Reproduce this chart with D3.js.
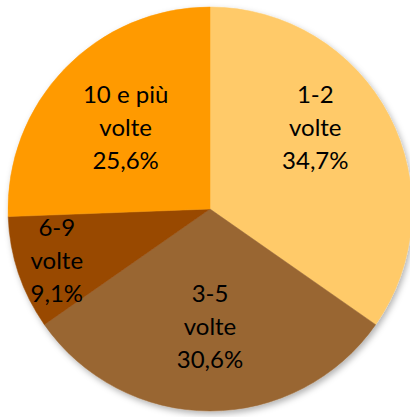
<!DOCTYPE html>
<html>
<head>
<meta charset="utf-8">
<script src="https://cdn.jsdelivr.net/npm/d3@7"></script>
<style>
  html, body { margin: 0; padding: 0; background: #fff; }
</style>
</head>
<body>
<div id="chart"></div>
<script>
const categories = ["1-2 volte", "3-5 volte", "6-9 volte", "10 e più volte"];
const labelLines = [["1-2", "volte"], ["3-5", "volte"], ["6-9", "volte"], ["10 e più", "volte"]];
const values = [34.7, 30.6, 9.1, 25.6];
const colors = ["#FFCA69", "#996633", "#994A06", "#FF9A00"];

const width = 410, height = 417;
const cx = 210, cy = 209, r = 202;

const svg = d3.select("#chart").append("svg")
  .attr("width", width)
  .attr("height", height);

// soft shadow like the office chart
const defs = svg.append("defs");
const f = defs.append("filter").attr("id", "shadow")
  .attr("x", "-10%").attr("y", "-10%").attr("width", "120%").attr("height", "120%");
f.append("feDropShadow")
  .attr("dx", 2).attr("dy", 3).attr("stdDeviation", 3)
  .attr("flood-color", "#000").attr("flood-opacity", 0.3);

const g = svg.append("g").attr("transform", `translate(${cx},${cy})`);

const data = categories.map((c, i) => ({ cat: c, lines: labelLines[i], value: values[i], color: colors[i] }));

const pie = d3.pie().value(d => d.value).sort(null);
const arcs = pie(data);

const arc = d3.arc().innerRadius(0).outerRadius(r);

const slices = g.append("g").attr("filter", "url(#shadow)");
slices.selectAll("path")
  .data(arcs)
  .join("path")
  .attr("d", arc)
  .attr("fill", d => d.data.color)
  .attr("stroke", d => d.data.color)
  .attr("stroke-width", 0.5);

// label placement: small slices pushed out, first slice nudged up a bit
const labelRadius = d => d.data.value < 15 ? 0.8 * r : (d.index === 0 ? 0.66 * r : 0.58 * r);
const labelAngleShift = d => d.index === 0 ? -0.18 : 0;

const labels = g.append("g")
  .selectAll("text")
  .data(arcs)
  .join("text")
  .attr("transform", d => {
    const a = (d.startAngle + d.endAngle) / 2 + labelAngleShift(d);
    const lr = labelRadius(d);
    return `translate(${Math.sin(a) * lr},${-Math.cos(a) * lr})`;
  })
  .attr("text-anchor", "middle")
  .attr("font-family", "Lato, 'Open Sans', sans-serif")
  .attr("font-size", "24px")
  .attr("fill", "#000");

labels.each(function(d) {
  const t = d3.select(this);
  const lines = d.data.lines.concat([d3.format(".1f")(d.data.value).replace(".", ",") + "%"]);
  lines.forEach((ln, i) => {
    t.append("tspan")
      .attr("x", 0)
      .attr("y", (i - 1) * 33)
      .attr("dy", "0.35em")
      .text(ln);
  });
});
</script>
</body>
</html>
